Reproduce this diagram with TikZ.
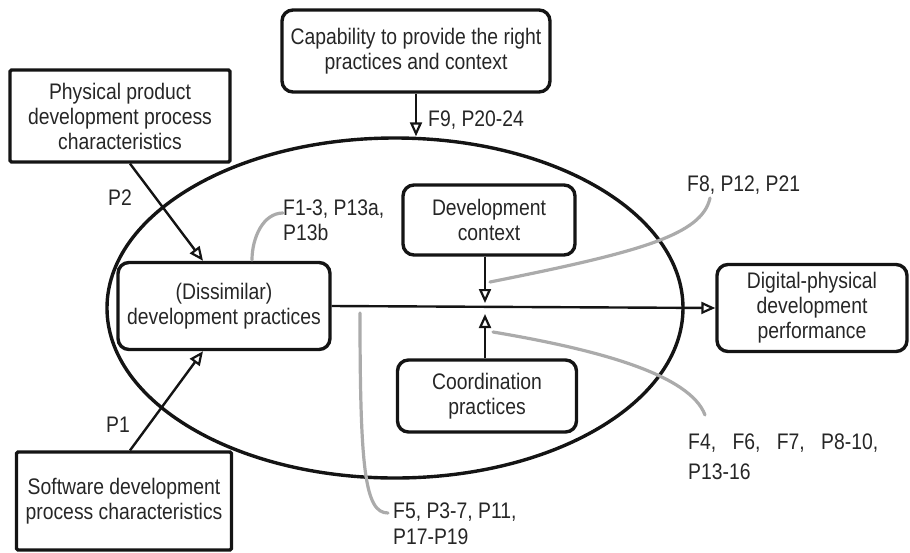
\documentclass[tikz,border=0pt]{standalone}
\usepackage{fontspec}
\setmainfont[FakeStretch=0.86]{Liberation Sans}
\usetikzlibrary{arrows.meta,calc,shapes.geometric}
\definecolor{ink}{HTML}{141414}
\definecolor{txt}{HTML}{262626}
\definecolor{leadc}{HTML}{ABABAB}
\begin{document}
\begin{tikzpicture}[x=1pt,y=-1pt,
  every node/.style={font=\fontsize{22.5}{25}\selectfont, text=txt},
  rbox/.style={draw=ink, line width=3.4pt, rounded corners=11pt, align=center, inner sep=0pt},
  sbox/.style={draw=ink, line width=3.2pt, rounded corners=1.5pt, align=center, inner sep=0pt},
  conn/.style={draw=ink, line width=2.4pt, -{Triangle[open,length=14pt,width=12pt,line width=2.2pt]}},
  lead/.style={draw=leadc, line width=3.2pt, line cap=round},
  lbl/.style={inner sep=0pt, align=left, anchor=west}
]
\useasboundingbox (0,0) rectangle (910,552);

% enclosing ellipse
\node[draw=ink, line width=3.4pt, ellipse, minimum width=576pt, minimum height=340pt, inner sep=0pt] (E) at (395,308) {};

% boxes
\node[rbox, minimum width=268pt, minimum height=82pt] (cap) at (416,51) {Capability to provide the right\\practices and context};
\node[sbox, minimum width=220pt, minimum height=92pt] (phys) at (120,116) {Physical product\\development process\\characteristics};
\node[rbox, minimum width=212pt, minimum height=87pt] (dis) at (224,306) {(Dissimilar)\\development practices};
\node[rbox, minimum width=172pt, minimum height=70pt] (devctx) at (489,220) {Development\\context};
\node[rbox, minimum width=179pt, minimum height=72pt] (coord) at (487,396) {Coordination\\practices};
\node[rbox, minimum width=190pt, minimum height=87pt] (dig) at (812,308) {Digital-physical\\development\\performance};
\node[sbox, minimum width=215pt, minimum height=98pt] (soft) at (124,501) {Software development\\process characteristics};

% labels
\node[lbl] (L9) at (428,120) {F9, P20-24};
\node (P2) at (120,198) {P2};
\node (P1) at (118,425) {P1};
\node[lbl] (L13) at (283,220) {F1-3, P13a,\\P13b};
\node[lbl] (L8) at (687,185) {F8, P12, P21};
\node[lbl, font=\fontsize{22.5}{30}\selectfont] (L4) at (688,457) {\makebox[190pt][s]{F4, F6, F7, P8-10,}\\P13-16};
\node[lbl, font=\fontsize{22.5}{26}\selectfont] (L5) at (393,524) {F5, P3-7, P11,\\P17-P19};

% connectors
\draw[conn] (cap.south) -- (cap.south |- E.north);
\draw[conn] ($(phys.south)+(10,0)$) -- ($(dis.north)+(-21,0)$);
\draw[conn] ($(soft.north)+(6,0)$) -- ($(dis.south)+(-21,0)$);
\draw[conn] (dis.east) -- (dig.west);
\coordinate (mA) at (485,303);
\coordinate (mB) at (485,314);
\draw[conn] (devctx.south -| mA) -- (mA);
\draw[conn] (coord.north -| mB) -- (mB);

% grey leaders
\coordinate (c13) at (252,260);
\draw[lead] ($(L13.west)+(0,-7)$) .. controls +(-20,0) and +(0,-22) .. (c13);
\coordinate (c8) at (490,282);
\draw[lead] ($(L8.west)+(23,13)$) .. controls (702,235) and (640,252) .. (c8);
\coordinate (c4) at (493,332);
\draw[lead] ($(L4.west)+(17,-42)$) .. controls (690,375) and (600,350) .. (c4);
\coordinate (c5) at (360,313);
\draw[lead] ($(L5.west)+(-5,-11)$) .. controls (365,513) and (360,470) .. (c5);
\end{tikzpicture}
\end{document}
